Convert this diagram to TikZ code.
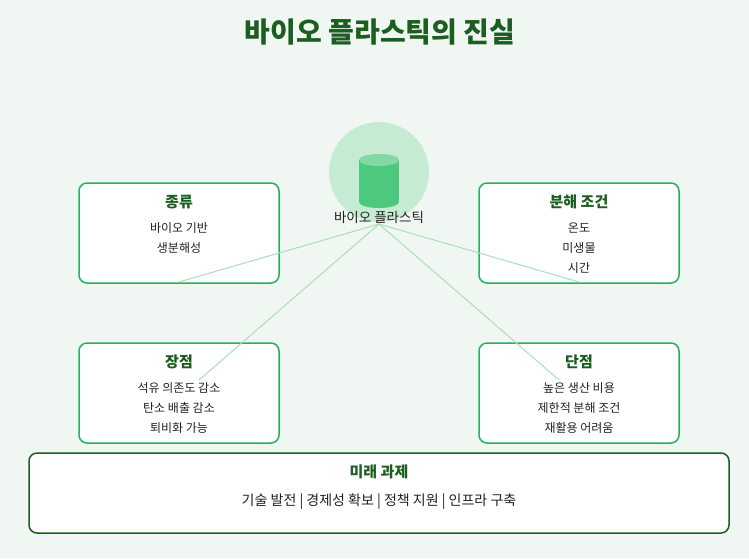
\documentclass[tikz,border=0pt]{standalone}
\usepackage{fontspec}
\setmainfont{Noto Sans CJK KR}
\definecolor{bg}{HTML}{F0F7F2}
\definecolor{dg}{HTML}{1B5E20}
\definecolor{bd}{HTML}{22B35A}
\definecolor{ln}{HTML}{A8DEBB}
\definecolor{cc}{HTML}{C5EBD3}
\definecolor{cy}{HTML}{4CC97E}
\definecolor{tx}{HTML}{222222}
\tikzset{box/.style={draw=bd,line width=1.5pt,rounded corners=8pt,fill=white},
 head/.style={font=\bfseries\fontsize{15}{17}\selectfont,text=dg},
 item/.style={font=\fontsize{12}{14}\selectfont,text=tx},
 conn/.style={draw=ln,line width=1pt}}
\begin{document}
\begin{tikzpicture}[x=1pt,y=-1pt]
\fill[bg] (0,0) rectangle (749,558);
\useasboundingbox (0,0) rectangle (749,558);
\node[font=\bfseries\fontsize{28}{32}\selectfont,text=dg] (title) at (380,32) {바이오 플라스틱의 진실};
\node[box,minimum width=200pt,minimum height=100pt] (b1) at (179,233) {};
\node[box,minimum width=200pt,minimum height=100pt] (b2) at (579,233) {};
\node[box,minimum width=200pt,minimum height=100pt] (b3) at (179,393) {};
\node[box,minimum width=200pt,minimum height=100pt] (b4) at (579,393) {};
\node[box,draw=dg,minimum width=700pt,minimum height=80pt] (b5) at (379,493) {};
\fill[cc] (379,172) circle (50);
\fill[cy] (359,160) rectangle (399,202);
\fill[cy] (379,202) ellipse (20 and 6);
\fill[cy!70!white] (379,160) ellipse (20 and 6);
\node[item,font=\fontsize{13.5}{15}\selectfont] (c) at (379,217) {바이오 플라스틱};
\coordinate (o) at (379,224);
\coordinate (e1) at (179,282);
\coordinate (e2) at (579,282);
\coordinate (e3) at (199,380);
\coordinate (e4) at (559,380);
\draw[conn] (o) -- (e1); \draw[conn] (o) -- (e2);
\draw[conn] (o) -- (e3); \draw[conn] (o) -- (e4);
\node[head] at (179,202) {종류};
\node[item] at (179,228) {바이오 기반};
\node[item] at (179,248) {생분해성};
\node[head] at (579,202) {분해 조건};
\node[item] at (579,228) {온도};
\node[item] at (579,248) {미생물};
\node[item] at (579,268) {시간};
\node[head] at (179,362) {장점};
\node[item] at (179,388) {석유 의존도 감소};
\node[item] at (179,408) {탄소 배출 감소};
\node[item] at (179,428) {퇴비화 가능};
\node[head] at (579,362) {단점};
\node[item] at (579,388) {높은 생산 비용};
\node[item] at (579,408) {제한적 분해 조건};
\node[item] at (579,428) {재활용 어려움};
\node[head] at (379,472) {미래 과제};
\node[item,font=\fontsize{14}{16}\selectfont] at (379,502) {기술 발전 | 경제성 확보 | 정책 지원 | 인프라 구축};
\end{tikzpicture}
\end{document}
